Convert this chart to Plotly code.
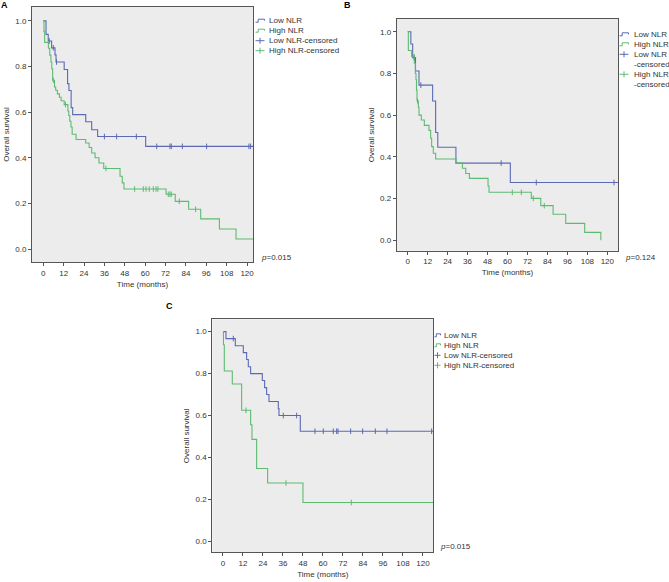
import plotly.graph_objects as go

W, H = 669, 582
BLUE = "#5B69B3"
GREEN = "#5DBB70"
FONT = "Liberation Sans, Arial, sans-serif"
TXT = "#333333"
AXC = "#555555"

# ---------------- data ----------------
# Panel A
A_low_time = [0, 1.6, 2.9, 4.9, 6.9, 7.5, 12.3, 14.3, 15.1, 16.4, 17.3, 25.0, 28.5, 32.0, 60.3, 123.5]
A_low_surv = [1.0, 0.941, 0.912, 0.882, 0.851, 0.820, 0.787, 0.725, 0.695, 0.62, 0.589, 0.558, 0.523, 0.493, 0.450, 0.450]
A_low_cens = [3.5, 5.9, 7.8, 36.0, 43.2, 54.8, 66.8, 74.6, 75.4, 81.9, 96.2, 121.1, 122.1]

A_high_time = [0, 0.4, 0.8, 3.0, 3.8, 4.5, 5.0, 5.5, 6.6, 7.3, 8.3, 9.5, 10.5, 12.3, 14.5, 15.0, 15.6, 16.3, 17.0,
               19.3, 25.0, 27.0, 28.5, 30.5, 32.8, 35.6, 45.2, 46.5, 47.5, 72.3, 77.7, 85.6, 92.7, 103.7, 113.5, 123.5]
A_high_surv = [1.0, 0.953, 0.906, 0.88, 0.85, 0.82, 0.79, 0.74, 0.71, 0.696, 0.68, 0.665, 0.65, 0.633, 0.605, 0.585,
               0.56, 0.535, 0.503, 0.48, 0.465, 0.445, 0.421, 0.40, 0.377, 0.353, 0.319, 0.29, 0.263, 0.240, 0.209,
               0.174, 0.132, 0.088, 0.044, 0.044]
A_high_cens = [5.9, 13.1, 36.9, 53.8, 58.9, 60.5, 62.4, 64.8, 66.4, 67.5, 73.6, 74.6, 75.4, 80.1, 89.7]

# Panel B
B_low_time = [0, 1.9, 3.0, 4.7, 6.8, 15.0, 16.8, 18.1, 29.0, 61.7, 126.6]
B_low_surv = [1.0, 0.941, 0.876, 0.812, 0.744, 0.668, 0.517, 0.446, 0.370, 0.277, 0.277]
B_low_cens = [3.9, 7.9, 56.2, 77.3, 124.0]

B_high_time = [0, 0.4, 2.4, 4.0, 4.6, 5.0, 5.3, 5.6, 6.4, 6.8, 8.2, 10.0, 12.8, 13.8, 14.4, 15.4, 16.8, 29.1, 32.9,
               34.9, 37.1, 48.3, 48.9, 74.3, 80.0, 87.4, 95.0, 106.4, 116.1]
B_high_surv = [1.0, 0.91, 0.88, 0.849, 0.80, 0.77, 0.72, 0.669, 0.638, 0.600, 0.577, 0.551, 0.527, 0.489, 0.449,
               0.417, 0.390, 0.370, 0.345, 0.320, 0.297, 0.26, 0.230, 0.201, 0.166, 0.125, 0.081, 0.038, 0.0]
B_high_cens = [3.9, 5.9, 62.9, 68.3, 75.5, 82.1]

# Panel C
C_low_time = [0, 1.8, 7.4, 12.2, 14.2, 15.2, 16.6, 23.6, 25.0, 26.2, 27.6, 33.2, 33.6, 46.4, 126.2]
C_low_surv = [1.0, 0.967, 0.933, 0.90, 0.867, 0.833, 0.80, 0.767, 0.733, 0.70, 0.667, 0.633, 0.60, 0.525, 0.525]
C_low_cens = [6.2, 36.2, 44.2, 55.2, 60.2, 66.2, 68.2, 69.0, 76.6, 83.8, 91.4, 98.4, 125.2]

C_high_time = [0, 0.3, 0.8, 5.6, 11.2, 16.6, 17.4, 20.2, 26.8, 48.0, 126.2]
C_high_surv = [1.0, 0.9375, 0.8125, 0.75, 0.625, 0.556, 0.486, 0.347, 0.278, 0.185, 0.185]
C_high_cens = [13.8, 37.8, 77.0]

x_ticks = [0, 12, 24, 36, 48, 60, 72, 84, 96, 108, 120]
y_ticks = [0.0, 0.2, 0.4, 0.6, 0.8, 1.0]
x_title = "Time (months)"
y_title = "Overall survival"
panel_letters = ["A", "B", "C"]
p_values = ["0.015", "0.124", "0.015"]
legend_A = ["Low NLR", "High NLR", "Low NLR-censored", "High NLR-censored"]
legend_B = ["Low NLR", "High NLR", "Low NLR<br>-censored", "High NLR<br>-censored"]
legend_C = ["Low NLR", "High NLR", "Low NLR-censored", "High NLR-censored"]


def step_value(times, surv, t):
    v = surv[0]
    for ti, si in zip(times, surv):
        if ti <= t:
            v = si
        else:
            break
    return v


def px(x):
    return x / W


def py(y):
    return 1 - y / H


fig = go.Figure()

panels = [
    dict(sfx="", low=(A_low_time, A_low_surv, A_low_cens), high=(A_high_time, A_high_surv, A_high_cens),
         box=(32, 253, 7, 262), xr=(-6.65, 123.5), yr=(-0.057, 1.061)),
    dict(sfx="2", low=(B_low_time, B_low_surv, B_low_cens), high=(B_high_time, B_high_surv, B_high_cens),
         box=(396.7, 618.3, 19, 250.7), xr=(-6.6, 126.6), yr=(-0.05, 1.061)),
    dict(sfx="3", low=(C_low_time, C_low_surv, C_low_cens), high=(C_high_time, C_high_surv, C_high_cens),
         box=(212.3, 433.3, 319.3, 552.3), xr=(-6.4, 126.2), yr=(-0.0525, 1.059)),
]

names = ["Low NLR", "High NLR"]
for p in panels:
    xa, ya = "x" + p["sfx"], "y" + p["sfx"]
    for (t, s, c), col, nm in [(p["low"], BLUE, names[0]), (p["high"], GREEN, names[1])]:
        fig.add_trace(go.Scatter(x=t, y=s, mode="lines", line=dict(color=col, width=1.1, shape="hv"),
                                 name=nm, xaxis=xa, yaxis=ya, showlegend=False))
    for (t, s, c), col, nm in [(p["low"], BLUE, names[0]), (p["high"], GREEN, names[1])]:
        fig.add_trace(go.Scatter(x=c, y=[step_value(t, s, ci) for ci in c], mode="markers",
                                 marker=dict(symbol="line-ns", size=4, line=dict(color=col, width=1)),
                                 name=nm + "-censored", xaxis=xa, yaxis=ya, showlegend=False))

axis_common = dict(showline=True, linecolor=AXC, linewidth=1, mirror=True, ticks="outside", ticklen=3,
                   tickcolor=AXC, showgrid=False, zeroline=False,
                   tickfont=dict(family=FONT, size=8, color=TXT))

layout = dict(width=W, height=H, margin=dict(l=0, r=0, t=0, b=0), paper_bgcolor="white",
              plot_bgcolor="#ECECEC", showlegend=False, font=dict(family=FONT, size=8, color=TXT))
for p in panels:
    x0, x1, y0, y1 = p["box"]
    layout["xaxis" + p["sfx"]] = dict(axis_common, domain=[px(x0), px(x1)], range=list(p["xr"]),
                                      tickvals=x_ticks, anchor="y" + p["sfx"],
                                      title=dict(text=x_title, font=dict(size=8), standoff=4))
    layout["yaxis" + p["sfx"]] = dict(axis_common, domain=[py(y1), py(y0)], range=list(p["yr"]),
                                      tickvals=y_ticks, tickformat=".1f", anchor="x" + p["sfx"],
                                      title=dict(text=y_title, font=dict(size=8), standoff=4))
fig.update_layout(**layout)

ann = []
shapes = []


def add_text(x, y, text, size=8, bold=False, anchor="left"):
    if bold:
        text = "<b>" + text + "</b>"
    ann.append(dict(x=px(x), y=py(y), xref="paper", yref="paper", text=text, showarrow=False,
                    xanchor=anchor, yanchor="middle", font=dict(family=FONT, size=size, color=TXT if not bold else "black")))


def step_icon(x0, yc, col, w):
    pts = [(x0, yc + 1.5), (x0 + w * 0.3, yc + 1.5), (x0 + w * 0.3, yc - 1.5), (x0 + w, yc - 1.5), (x0 + w, yc)]
    path = "M " + " L ".join(f"{px(a):.5f},{py(b):.5f}" for a, b in pts)
    shapes.append(dict(type="path", xref="paper", yref="paper", path=path, line=dict(color=col, width=1)))


def plus_icon(x0, yc, col, w):
    shapes.append(dict(type="line", xref="paper", yref="paper", x0=px(x0), x1=px(x0 + w), y0=py(yc), y1=py(yc),
                       line=dict(color=col, width=1)))
    shapes.append(dict(type="line", xref="paper", yref="paper", x0=px(x0 + w / 2), x1=px(x0 + w / 2),
                       y0=py(yc - 3), y1=py(yc + 3), line=dict(color=col, width=1)))


def legend(labels, xi, w, xt, y_first, spacing):
    kinds = [(step_icon, BLUE), (step_icon, GREEN), (plus_icon, BLUE), (plus_icon, GREEN)]
    y = y_first
    for lab, (fn, col) in zip(labels, kinds):
        fn(xi, y, col, w)
        for ln in lab.split("<br>"):
            add_text(xt, y, ln)
            y += spacing


legend(legend_A, 255.5, 9, 266.5, 20.7, 10)
legend(legend_B, 619.5, 9, 631.5, 34.3, 10)
legend(legend_C, 434.5, 6, 441.5, 335.3, 10)

add_text(259, 257, "<i>p</i>=" + p_values[0])
add_text(622.5, 257, "<i>p</i>=" + p_values[1])
add_text(437.5, 546.7, "<i>p</i>=" + p_values[2])

add_text(4.5, 5.5, panel_letters[0], size=9, bold=True, anchor="center")
add_text(347.5, 5.5, panel_letters[1], size=9, bold=True, anchor="center")
add_text(169.5, 305.5, panel_letters[2], size=9, bold=True, anchor="center")

fig.update_layout(annotations=ann, shapes=shapes)
fig.write_html("out.html", config={"displayModeBar": False},
               post_script="document.body.style.margin='0';document.body.style.overflow='hidden';")
